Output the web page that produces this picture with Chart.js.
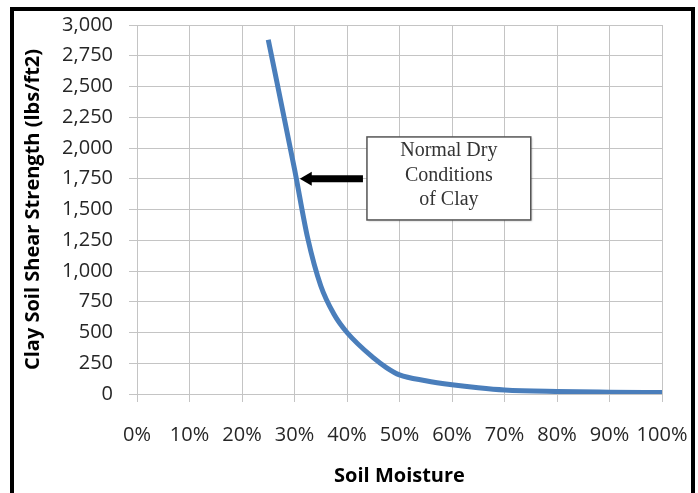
<!DOCTYPE html>
<html>
<head>
<meta charset="utf-8">
<script src="https://cdn.jsdelivr.net/npm/chart.js@4.4.1/dist/chart.umd.min.js"></script>
<style>
  html, body { margin: 0; padding: 0; background: #fff; }
  body { width: 698px; height: 493px; overflow: hidden; position: relative; }
  #frame { position: absolute; left: 10px; top: 7px; width: 677px; height: 520px; border: 4px solid #000; }
  #wrap { position: absolute; left: 0; top: 0; width: 698px; height: 493px; }
</style>
</head>
<body>
<div id="frame"></div>
<div id="wrap"><canvas id="soilChart"></canvas></div>
<script>
// soil moisture (%) vs clay shear strength (lbs/ft2)
const moisture = [25, 30, 32.5, 35, 37.5, 40, 45, 47.5, 50, 55, 60, 65, 70, 80, 90, 100];
const strength = [2880, 1830, 1270, 880, 650, 500, 295, 215, 155, 108, 75, 50, 32, 20, 15, 12];

const noteLines = ['Normal Dry', 'Conditions', 'of Clay'];
// callout box corners and arrow tip, in data units
const noteBox = { x1: 43.8, x2: 75, y1: 2090, y2: 1415 };
const arrowTip = { x: 31, y: 1750 };

const points = moisture.map((m, i) => ({ x: m, y: strength[i] }));

const calloutPlugin = {
  id: 'callout',
  afterDatasetsDraw(chart) {
    const { ctx, scales: { x, y } } = chart;
    const bx1 = x.getPixelForValue(noteBox.x1);
    const bx2 = x.getPixelForValue(noteBox.x2);
    const by1 = y.getPixelForValue(noteBox.y1);
    const by2 = y.getPixelForValue(noteBox.y2);
    const tx = x.getPixelForValue(arrowTip.x);
    const ty = y.getPixelForValue(arrowTip.y);

    ctx.save();
    // box
    ctx.shadowColor = 'rgba(0,0,0,0.25)';
    ctx.shadowOffsetX = 1;
    ctx.shadowOffsetY = 1;
    ctx.shadowBlur = 2;
    ctx.fillStyle = '#fff';
    ctx.fillRect(bx1, by1, bx2 - bx1, by2 - by1);
    ctx.shadowColor = 'transparent';
    ctx.strokeStyle = '#555';
    ctx.lineWidth = 1.5;
    ctx.strokeRect(bx1, by1, bx2 - bx1, by2 - by1);

    // text
    ctx.fillStyle = '#333';
    ctx.font = '20px "Liberation Serif", serif';
    ctx.textAlign = 'center';
    ctx.textBaseline = 'middle';
    const cx = (bx1 + bx2) / 2;
    const cy = (by1 + by2) / 2;
    noteLines.forEach((t, i) => {
      ctx.fillText(t, cx, cy + (i - 1) * 24.5 - 3);
    });

    // arrow
    ctx.fillStyle = '#000';
    ctx.fillRect(tx + 10, ty - 3.5, bx1 - 4 - (tx + 10), 7);
    ctx.beginPath();
    ctx.moveTo(tx, ty);
    ctx.lineTo(tx + 12, ty - 7);
    ctx.lineTo(tx + 12, ty + 7);
    ctx.closePath();
    ctx.fill();
    ctx.restore();
  }
};

const tickFont = { family: '"Open Sans", sans-serif', size: 20 };
const titleFont = { family: '"Open Sans", sans-serif', size: 20, weight: 'bold' };
const gridColor = '#c4c4c4';

new Chart(document.getElementById('soilChart'), {
  type: 'scatter',
  data: {
    datasets: [{
      data: points,
      showLine: true,
      borderColor: '#4a7ebb',
      borderWidth: 5,
      pointRadius: 0,
      cubicInterpolationMode: 'monotone',
      fill: false
    }]
  },
  options: {
    responsive: true,
    maintainAspectRatio: false,
    animation: false,
    layout: { padding: { left: 0, top: 25, right: 36, bottom: 0 } },
    plugins: {
      legend: { display: false },
      tooltip: { enabled: false }
    },
    scales: {
      x: {
        type: 'linear',
        min: 0,
        max: 100,
        afterFit(scale) {
          scale.height = 99;
          scale.paddingLeft = 0;
          scale.paddingRight = 0;
        },
        grid: { color: gridColor, tickLength: 8, tickColor: gridColor },
        border: { color: gridColor },
        ticks: {
          stepSize: 10,
          autoSkip: false,
          maxRotation: 0,
          padding: 21,
          color: '#262626',
          font: tickFont,
          callback: v => v + '%'
        },
        title: {
          display: true,
          text: 'Soil Moisture',
          color: '#000',
          font: titleFont,
          padding: { top: 0, bottom: 5 }
        }
      },
      y: {
        min: 0,
        max: 3000,
        afterFit(scale) {
          scale.width = 137;
          scale.paddingTop = 0;
          scale.paddingBottom = 0;
        },
        grid: { color: gridColor, tickLength: 8, tickColor: gridColor },
        border: { color: gridColor },
        ticks: {
          stepSize: 250,
          padding: 16,
          color: '#262626',
          font: tickFont,
          callback: v => v.toLocaleString('en-US')
        },
        title: {
          display: true,
          text: 'Clay Soil Shear Strength (lbs/ft2)',
          color: '#000',
          font: titleFont,
          padding: { top: 21, bottom: 0 }
        }
      }
    }
  },
  plugins: [calloutPlugin]
});
</script>
</body>
</html>
